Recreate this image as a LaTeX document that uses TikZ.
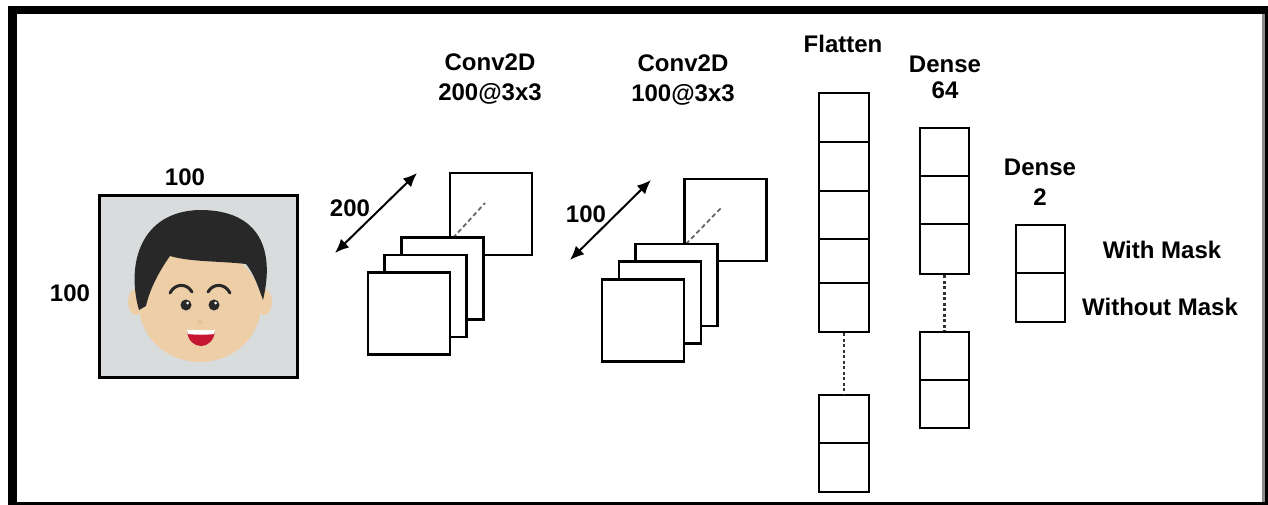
\documentclass[tikz,border=0pt]{standalone}
\usepackage{fontspec}
\setmainfont{Liberation Sans}
\usetikzlibrary{arrows.meta}
\definecolor{facebg}{RGB}{217,220,221}
\definecolor{skin}{RGB}{237,206,166}
\definecolor{hair}{RGB}{40,40,40}
\definecolor{mouthred}{RGB}{196,22,50}
\begin{document}
\begin{tikzpicture}[x=1pt,y=-1pt,
  lbl/.style={font=\fontsize{24}{30}\selectfont\bfseries, align=center, inner sep=0pt},
  fmap/.style={draw=black, fill=white, line width=2.2pt, minimum size=82pt, inner sep=0pt},
  cell/.style={draw=black, fill=white, line width=2.2pt, inner sep=0pt, minimum width=49pt},
  gap/.style={line width=2.2pt, black!80, dash pattern=on 3pt off 2.5pt},
  depth/.style={line width=1.8pt, black!60, dash pattern=on 4.5pt off 3pt},
  dimarrow/.style={line width=2pt, {Latex[length=14pt,width=12pt]}-{Latex[length=14pt,width=12pt]}}]

\useasboundingbox (0,0) rectangle (1268,505);

% outer frame
\fill[black] (8,6) rectangle (1268,505);
\fill[white] (17,14) rectangle (1262,502);
\fill[black!45] (1262,14) rectangle (1265,502);

% ---------- input image ----------
\node[draw=black, line width=3.2pt, fill=facebg, minimum width=198pt, minimum height=182pt, inner sep=0pt] (img) at (198.5,286.5) {};
% ears and face
\fill[skin] (136,302) ellipse (8 and 13);
\fill[skin] (264,302) ellipse (8 and 13);
\fill[skin] (200,305) ellipse (61 and 57);
% hair
\fill[hair] (139,310) .. controls (126,265) and (140,211) .. (200,210)
  .. controls (260,210) and (275,250) .. (263,300)
  .. controls (258,286) and (254,274) .. (246,264)
  .. controls (220,261) and (190,262) .. (170,256)
  .. controls (160,270) and (150,288) .. (146,306) -- cycle;
% eyebrows
\draw[hair, line width=3pt, line cap=round] (170,293) .. controls (175,283) and (187,283) .. (192,292);
\draw[hair, line width=3pt, line cap=round] (208,292) .. controls (213,283) and (225,283) .. (230,293);
% eyes
\fill[hair] (186,305) circle (5.5);
\fill[hair] (214,305) circle (5.5);
\fill[white] (187.5,303) circle (1.5);
\fill[white] (215.5,303) circle (1.5);
% nose
\fill[skin!85!brown] (200,322) ellipse (3 and 2);
% mouth
\fill[mouthred] (187,331) .. controls (189,351) and (213,351) .. (215,331) -- cycle;
\fill[white] (187,330) -- (215,330) -- (214.3,334) .. controls (205,335) and (197,335) .. (187.7,334) -- cycle;

\node[lbl] (wlab) at (185,177) {100};
\node[lbl] (hlab) at (70,293) {100};

% ---------- first convolution ----------
\node[lbl] (conv1) at (490,79) {Conv2D\\200@3x3};
\node[fmap] (c1b) at (491,214) {};
\coordinate (c1d0) at (453,238);
\coordinate (c1d1) at (485,203);
\draw[depth] (c1d0) -- (c1d1);
\node[fmap] (c1s3) at (442.5,278.5) {};
\node[fmap] (c1s2) at (425.5,296) {};
\node[fmap] (c1s1) at (409,313.5) {};
\coordinate (a1s) at (335,253);
\coordinate (a1e) at (417,173);
\draw[dimarrow] (a1s) -- (a1e);
\node[lbl] (n1) at (350,208) {200};

% ---------- second convolution ----------
\node[lbl] (conv2) at (683,80) {Conv2D\\100@3x3};
\node[fmap] (c2b) at (725.5,220) {};
\coordinate (c2d0) at (686,244);
\coordinate (c2d1) at (721,208);
\draw[depth] (c2d0) -- (c2d1);
\node[fmap] (c2s3) at (676.5,285) {};
\node[fmap] (c2s2) at (660,302.5) {};
\node[fmap] (c2s1) at (643,320.5) {};
\coordinate (a2s) at (570,260);
\coordinate (a2e) at (651,180);
\draw[dimarrow] (a2s) -- (a2e);
\node[lbl] (n2) at (586,214) {100};

% ---------- flatten ----------
\node[lbl] (flat) at (843,44) {Flatten};
\node[cell, minimum width=50pt, minimum height=49pt] (f1) at (844,117.5) {};
\node[cell, minimum width=50pt, minimum height=49pt] (f2) at (844,166.5) {};
\node[cell, minimum width=50pt, minimum height=48pt] (f3) at (844,215) {};
\node[cell, minimum width=50pt, minimum height=44pt] (f4) at (844,261) {};
\node[cell, minimum width=50pt, minimum height=49pt] (f5) at (844,307.5) {};
\node[cell, minimum width=50pt, minimum height=48pt] (f6) at (844,419) {};
\node[cell, minimum width=50pt, minimum height=49pt] (f7) at (844,467.5) {};
\draw[gap] (f5.south) -- (f6.north);

% ---------- dense 64 ----------
\node[lbl] (dense64) at (945,77) {Dense\\[-4pt]64};
\node[cell, minimum height=48pt] (d1) at (944.5,152) {};
\node[cell, minimum height=48pt] (d2) at (944.5,200) {};
\node[cell, minimum height=50pt] (d3) at (944.5,249) {};
\node[cell, minimum height=48pt] (d4) at (944.5,356) {};
\node[cell, minimum height=48pt] (d5) at (944.5,404) {};
\draw[gap] (d3.south) -- (d4.north);

% ---------- dense 2 ----------
\node[lbl] (dense2) at (1040,182) {Dense\\2};
\node[cell, minimum height=48pt] (o1) at (1040.5,249) {};
\node[cell, minimum height=49pt] (o2) at (1040.5,297.5) {};
\node[lbl] (cls1) at (1162,250) {With Mask};
\node[lbl] (cls2) at (1160,307) {Without Mask};
\end{tikzpicture}
\end{document}
